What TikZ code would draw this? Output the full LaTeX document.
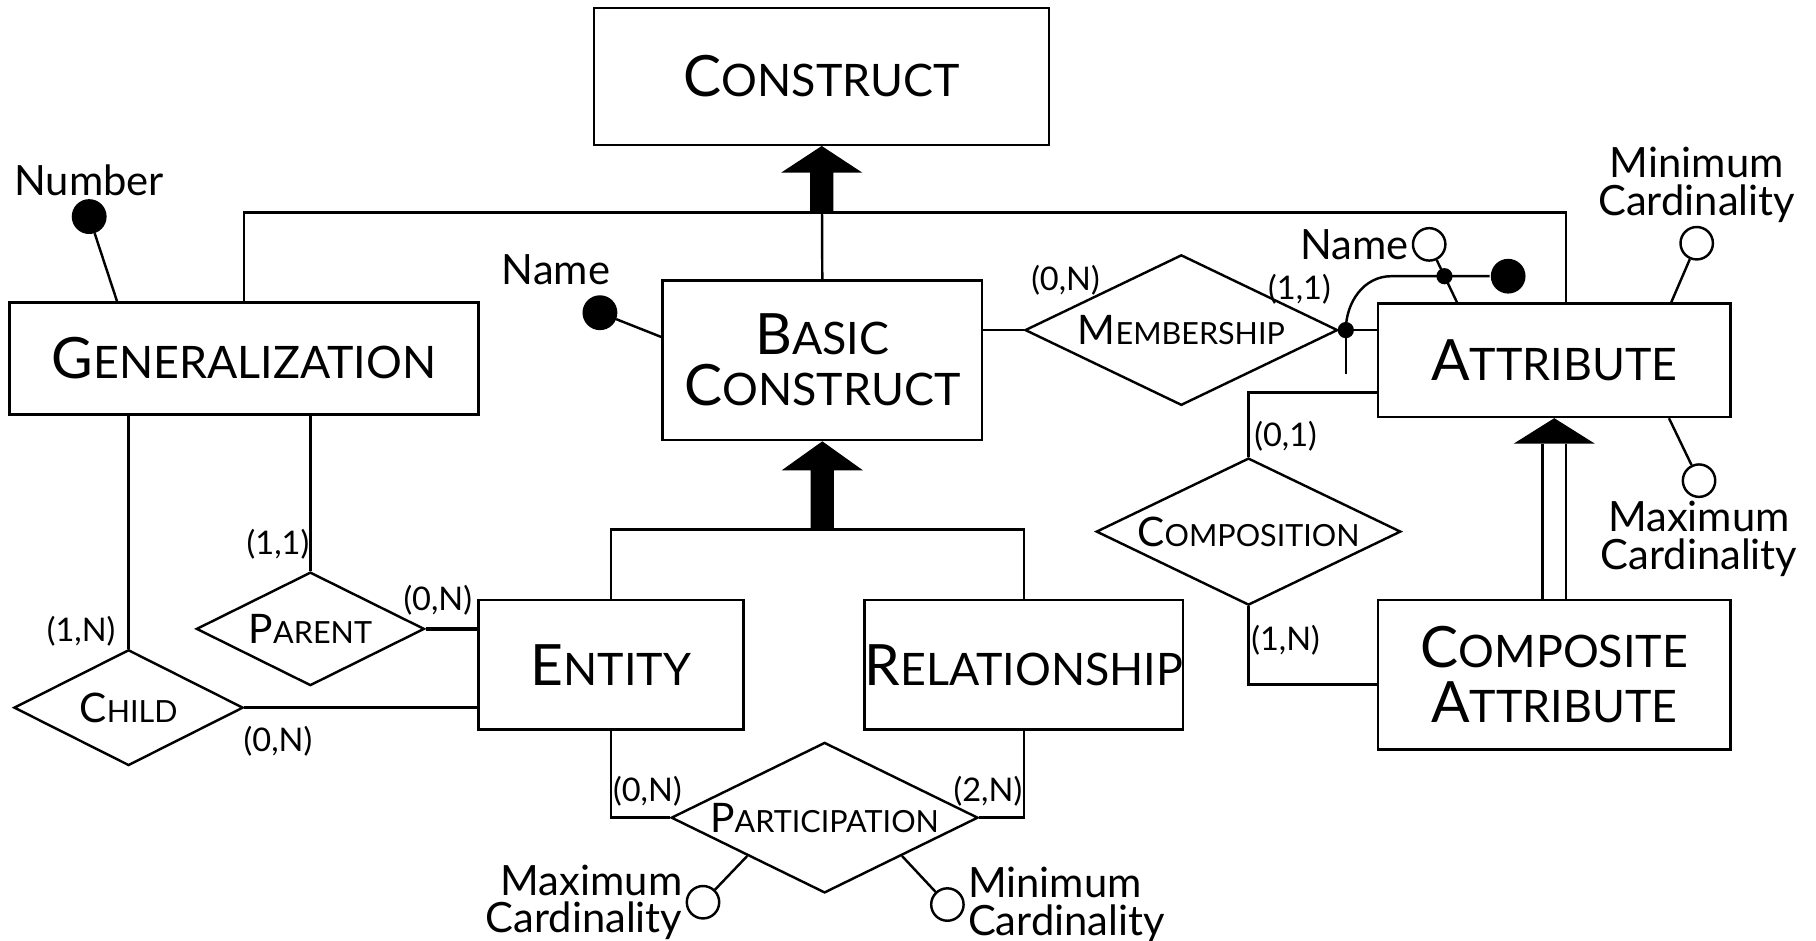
\documentclass[tikz,border=0pt]{standalone}
\usepackage{fontspec}
\setmainfont{Lato}
\usepackage{tikz}
\usetikzlibrary{shapes.geometric, positioning, calc}

\newcommand{\boxsc}[2]{{\fontsize{28}{30}\selectfont #1}{\fontsize{22}{25}\selectfont #2}}
\newcommand{\relsc}[2]{{\fontsize{20}{22}\selectfont #1}{\fontsize{15}{18}\selectfont #2}}

\begin{document}
\begin{tikzpicture}[x=0.02cm, y=-0.02cm, line width=1.2pt,
    entity/.style={rectangle, draw, inner sep=0pt, align=center, font=\fontsize{22}{25}\selectfont},
    relation/.style={diamond, draw, inner sep=0pt, aspect=2},
    keyattr/.style={circle, fill, draw, inner sep=0pt, minimum size=0.56cm},
    optattr/.style={circle, draw, fill=white, inner sep=0pt, minimum size=0.56cm},
    joint/.style={circle, fill, inner sep=0pt, minimum size=0.28cm},
    idkeydot/.style={circle, fill, inner sep=0pt, minimum size=0.6cm},
    attrlabel/.style={font=\fontsize{20.5}{18.5}\selectfont, align=center, inner sep=1pt},
    card/.style={font=\fontsize{16}{18}\selectfont, inner sep=0pt}
]
\useasboundingbox (0,0) rectangle (1568,812);

% Entities
\node[entity, minimum width=7.86cm, minimum height=2.36cm] (con) at (709.5,66) {\boxsc{C}{ONSTRUCT}};
\node[entity, minimum width=5.52cm, minimum height=2.76cm] (bcon) at (710,311) {\boxsc{B}{ASIC}\\\boxsc{C}{ONSTRUCT}};
\node[entity, minimum width=8.1cm, minimum height=1.94cm] (gen) at (210.5,309.5) {\boxsc{G}{ENERALIZATION}};
\node[entity, minimum width=6.08cm, minimum height=1.96cm] (attr) at (1342,311) {\boxsc{A}{TTRIBUTE}};
\node[entity, minimum width=6.08cm, minimum height=2.58cm, font=\fontsize{22}{27}\selectfont] (cattr) at (1342,582.5) {\boxsc{C}{OMPOSITE}\\\boxsc{A}{TTRIBUTE}};
\node[entity, minimum width=4.58cm, minimum height=2.24cm] (ent) at (527.5,574) {\boxsc{E}{NTITY}};
\node[entity, minimum width=5.44cm, minimum height=2.24cm] (rel) at (884,574) {\boxsc{R}{ELATIONSHIP}};

% Relationships
\node[relation, minimum width=5.4cm, minimum height=2.6cm] (memb) at (1020,285) {\relsc{M}{EMBERSHIP}};
\node[relation, minimum width=5.26cm, minimum height=2.54cm] (comp) at (1078,459) {\relsc{C}{OMPOSITION}};
\node[relation, minimum width=5.3cm, minimum height=2.6cm] (part) at (712,706) {\relsc{P}{ARTICIPATION}};
\node[relation, minimum width=3.94cm, minimum height=1.96cm] (parent) at (268,543) {\relsc{P}{ARENT}};
\node[relation, minimum width=3.96cm, minimum height=2cm] (child) at (111,611) {\relsc{C}{HILD}};

% Generalization of Construct
\coordinate (hub) at ($(con.south)!0.5!(bcon.north)$);
\draw (bcon.north) -- (hub);
\draw (gen.north) |- (hub) -| ($(attr.north)+(10,0)$);
\fill (con.south) -- ++(35,23) -- ++(-25,0) -- ++(0,35) -- ++(-20,0) -- ++(0,-35) -- ++(-25,0) -- cycle;

% Generalization of Basic Construct
\coordinate (hub2) at ($(bcon.south)+(0,76)$);
\draw (ent.north) |- (hub2) -| (rel.north);
\fill (bcon.south) -- ++(35,25) -- ++(-25,0) -- ++(0,51) -- ++(-20,0) -- ++(0,-51) -- ++(-25,0) -- cycle;

% Subset Composite Attribute
\fill (attr.south) -- ++(35,22) -- ++(-70,0) -- cycle;
\draw ($(attr.south)+(-10,22)$) -- ($(cattr.north)+(-10,0)$);
\draw ($(attr.south)+(10,22)$) -- ($(cattr.north)+(10,0)$);

% Attributes
\node[keyattr] (numdot) at (77,187) {};
\node[attrlabel, above=0pt of numdot] {Number};
\draw (numdot) -- ($(gen.north west)+(94,0)$);

\node[keyattr] (cname) at (518,270) {};
\node[attrlabel] at (480,233) {Name};
\draw (cname) -- ($(bcon.north west)+(0,50)$);

\node[optattr] (aname) at (1234,211) {};
\node[attrlabel, left=0pt of aname] {Name};
\coordinate (anamefoot) at ($(attr.north west)+(69,0)$);
\draw (aname) -- (anamefoot);
\node[joint] (idj) at ($(aname.center)!0.55!(anamefoot)$) {};
\node[idkeydot] (idkey) at ($(idj)+(55,0)$) {};

\node[optattr] (minc) at (1465,210) {};
\node[attrlabel, above=0pt of minc] {Minimum\\Cardinality};
\draw (minc) -- ($(attr.north east)+(-52,0)$);
\node[optattr] (maxc) at (1467,415) {};
\node[attrlabel, below=0pt of maxc] {Maximum\\Cardinality};
\draw (maxc) -- ($(attr.south east)+(-54,0)$);

\node[optattr] (pmax) at (607,779) {};
\node[optattr] (pmin) at (818,781) {};
\draw (part.south west) -- (pmax);
\draw (part.south east) -- (pmin);
\node[attrlabel, align=right, left=0pt of pmax] {Maximum\\Cardinality};
\node[attrlabel, align=left, right=0pt of pmin] {Minimum\\Cardinality};

% Connectors
\draw (memb.west -| bcon.east) -- (memb.west);
\draw (memb.east) -- (memb.east -| attr.west);
\node[joint] (mj) at ($(memb.east)+(6,0)$) {};
\draw (mj.center) -- ++(0,38);
\draw (mj.center) to[out=90, in=180] ($(idj)+(-46,0)$) -- (idkey);

\draw[line width=1.6pt] ($(attr.south west)+(0,-22)$) -| (comp.north);
\draw[line width=1.6pt] (comp.south) |- ($(cattr.south west)+(0,-57)$);
\draw (gen.south -| parent.north) -- (parent.north);
\draw[line width=1.6pt] (parent.east) -- (parent.east -| ent.west);
\draw (gen.south -| child.north) -- (child.north);
\draw (child.east) -- (child.east -| ent.west);
\draw (ent.south) |- (part.west);
\draw (rel.south) |- (part.east);

% Cardinalities
\node[card] at (920,242) {(0,N)};
\node[card] at (1122,250) {(1,1)};
\node[card] at (1110,377) {(0,1)};
\node[card] at (1110,553) {(1,N)};
\node[card] at (240,470) {(1,1)};
\node[card] at (378,518) {(0,N)};
\node[card] at (70,545) {(1,N)};
\node[card] at (240,640) {(0,N)};
\node[card] at (559,683) {(0,N)};
\node[card] at (853,683) {(2,N)};

\end{tikzpicture}
\end{document}
